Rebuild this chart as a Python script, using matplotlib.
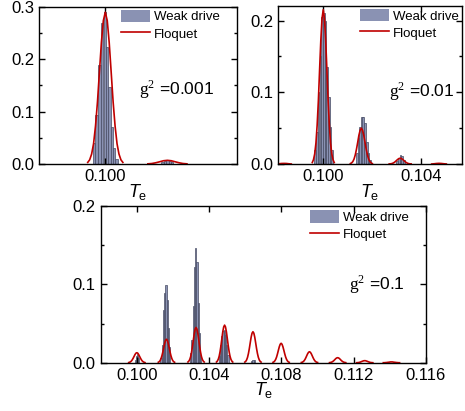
import numpy as np
import matplotlib
matplotlib.use('Agg')
import matplotlib.pyplot as plt
from matplotlib.patches import Patch
from matplotlib.lines import Line2D
from matplotlib.ticker import MultipleLocator

plt.rcParams['font.family'] = ['Liberation Sans', 'DejaVu Sans']
plt.rcParams['mathtext.fontset'] = 'custom'
plt.rcParams['mathtext.rm'] = 'Liberation Serif'
plt.rcParams['mathtext.it'] = 'Liberation Sans:italic'
plt.rcParams['mathtext.sf'] = 'Liberation Sans'

# ---- weak drive histograms (bin centre, height) ----
a_bin_x = [0.09972, 0.09979, 0.09986, 0.09993, 0.10000, 0.10006, 0.10012, 0.10018, 0.10024, 0.10030,
           0.10148, 0.10154, 0.10160, 0.10166, 0.10172]
a_bin_y = [0.040, 0.094, 0.190, 0.270, 0.290, 0.224, 0.148, 0.071, 0.030, 0.010,
           0.003, 0.006, 0.007, 0.006, 0.003]

b_bin_x = [0.09968, 0.09975, 0.09982, 0.09989, 0.09996, 0.10003, 0.10010, 0.10017, 0.10024, 0.10031, 0.10038,
           0.10138, 0.10145, 0.10152, 0.10159, 0.10165, 0.10172, 0.10179, 0.10186, 0.10193,
           0.10303, 0.10310, 0.10317, 0.10324, 0.10331]
b_bin_y = [0.020, 0.045, 0.100, 0.150, 0.205, 0.210, 0.200, 0.135, 0.094, 0.052, 0.020,
           0.015, 0.036, 0.052, 0.066, 0.066, 0.057, 0.031, 0.015, 0.005,
           0.004, 0.009, 0.013, 0.011, 0.006]

c_bin_x = [0.09992, 0.09998, 0.10004, 0.10010,
           0.10134, 0.10141, 0.10148, 0.10155, 0.10162, 0.10169, 0.10176, 0.10183,
           0.10298, 0.10305, 0.10312, 0.10319, 0.10326, 0.10333, 0.10340, 0.10347, 0.10354,
           0.10456, 0.10463, 0.10470, 0.10477, 0.10484, 0.10491, 0.10498, 0.10505,
           0.10636, 0.10643, 0.10650]
c_bin_y = [0.004, 0.009, 0.011, 0.006,
           0.006, 0.023, 0.067, 0.089, 0.099, 0.080, 0.044, 0.020,
           0.012, 0.029, 0.072, 0.122, 0.147, 0.129, 0.076, 0.038, 0.010,
           0.008, 0.022, 0.034, 0.040, 0.042, 0.036, 0.022, 0.010,
           0.002, 0.004, 0.003]

# ---- Floquet curves: peak centre, sample step, sampled heights ----
a_peaks = [
    (0.10001, 0.00005, [0.003, 0.008, 0.019, 0.039, 0.073, 0.119, 0.176, 0.232, 0.274, 0.290,
                        0.274, 0.232, 0.176, 0.119, 0.073, 0.039, 0.019, 0.008, 0.003]),
    (0.10160, 0.00010, [0.0003, 0.0009, 0.0023, 0.0042, 0.0062, 0.0070, 0.0062, 0.0042, 0.0023, 0.0009, 0.0003]),
]

b_peaks = [
    (0.09840, 0.00010, [0.0, 0.0003, 0.0007, 0.0008, 0.0007, 0.0003, 0.0]),
    (0.10001, 0.00005, [0.002, 0.006, 0.014, 0.029, 0.054, 0.088, 0.131, 0.172, 0.203, 0.215,
                        0.203, 0.172, 0.131, 0.088, 0.054, 0.029, 0.014, 0.006, 0.002]),
    (0.10157, 0.00005, [0.0006, 0.0015, 0.0033, 0.0068, 0.0125, 0.0205, 0.030, 0.040, 0.047, 0.050,
                        0.047, 0.040, 0.030, 0.0205, 0.0125, 0.0068, 0.0033, 0.0015, 0.0006]),
    (0.10316, 0.00005, [0.0001, 0.0002, 0.0005, 0.0011, 0.0020, 0.0033, 0.0049, 0.0064, 0.0076, 0.0080,
                        0.0076, 0.0064, 0.0049, 0.0033, 0.0020, 0.0011, 0.0005, 0.0002, 0.0001]),
    (0.10475, 0.00010, [0.0, 0.0003, 0.0007, 0.0009, 0.0007, 0.0003, 0.0]),
]

c_peaks = [
    (0.10000, 0.00005, [0.0002, 0.0006, 0.0012, 0.0022, 0.0038, 0.0059, 0.0082, 0.0105, 0.0122, 0.0128,
                        0.0122, 0.0105, 0.0082, 0.0059, 0.0038, 0.0022, 0.0012, 0.0006, 0.0002]),
    (0.10164, 0.00005, [0.0006, 0.0013, 0.0027, 0.0052, 0.0089, 0.0137, 0.0193, 0.0247, 0.0286, 0.0300,
                        0.0286, 0.0247, 0.0193, 0.0137, 0.0089, 0.0052, 0.0027, 0.0013, 0.0006]),
    (0.10328, 0.00005, [0.0009, 0.0020, 0.0041, 0.0077, 0.0133, 0.0206, 0.0290, 0.0370, 0.0428, 0.0450,
                        0.0428, 0.0370, 0.0290, 0.0206, 0.0133, 0.0077, 0.0041, 0.0020, 0.0009]),
    (0.10486, 0.00005, [0.0009, 0.0021, 0.0044, 0.0083, 0.0142, 0.0220, 0.0309, 0.0395, 0.0457, 0.0480,
                        0.0457, 0.0395, 0.0309, 0.0220, 0.0142, 0.0083, 0.0044, 0.0021, 0.0009]),
    (0.10643, 0.00005, [0.0008, 0.0017, 0.0036, 0.0068, 0.0117, 0.0181, 0.0255, 0.0326, 0.0377, 0.0396,
                        0.0377, 0.0326, 0.0255, 0.0181, 0.0117, 0.0068, 0.0036, 0.0017, 0.0008]),
    (0.10799, 0.00005, [0.0005, 0.0011, 0.0023, 0.0043, 0.0073, 0.0114, 0.0160, 0.0204, 0.0236, 0.0248,
                        0.0236, 0.0204, 0.0160, 0.0114, 0.0073, 0.0043, 0.0023, 0.0011, 0.0005]),
    (0.10956, 0.00005, [0.0003, 0.0006, 0.0013, 0.0024, 0.0041, 0.0064, 0.0090, 0.0115, 0.0133, 0.0140,
                        0.0133, 0.0115, 0.0090, 0.0064, 0.0041, 0.0024, 0.0013, 0.0006, 0.0003]),
    (0.11112, 0.00005, [0.0001, 0.0003, 0.0006, 0.0011, 0.0019, 0.0029, 0.0041, 0.0053, 0.0061, 0.0064,
                        0.0061, 0.0053, 0.0041, 0.0029, 0.0019, 0.0011, 0.0006, 0.0003, 0.0001]),
    (0.11262, 0.00005, [0.0, 0.0001, 0.0002, 0.0004, 0.0008, 0.0012, 0.0017, 0.0021, 0.0025, 0.0026,
                        0.0025, 0.0021, 0.0017, 0.0012, 0.0008, 0.0004, 0.0002, 0.0001, 0.0]),
    (0.11410, 0.00005, [0.0, 0.0, 0.0001, 0.0002, 0.0003, 0.0005, 0.0006, 0.0008, 0.0010, 0.0010,
                        0.0010, 0.0008, 0.0006, 0.0005, 0.0003, 0.0002, 0.0001, 0.0, 0.0]),
]

labels = [r'$\mathrm{g}^{2}$ =0.001', r'$\mathrm{g}^{2}$ =0.01', r'$\mathrm{g}^{2}$ =0.1']

bar_color = '#8a92b3'
bar_edge = '#464b63'
red = '#c00000'


def draw_panel(ax, bin_x, bin_y, width, peaks, xlim, ylim, label, text_pos, leg_anchor):
    ax.bar(bin_x, bin_y, width=width, color=bar_color, edgecolor=bar_edge, linewidth=0.5, zorder=1)
    for c, step, vals in peaks:
        n = len(vals)
        xs = [c + (i - n // 2) * step for i in range(n)]
        ax.plot(xs, vals, color=red, linewidth=1.2, zorder=2)
    ax.set_xlim(*xlim)
    ax.set_ylim(*ylim)
    ax.xaxis.set_major_locator(MultipleLocator(0.004))
    ax.yaxis.set_major_locator(MultipleLocator(0.1))
    ax.yaxis.set_minor_locator(MultipleLocator(0.05))
    ax.xaxis.set_major_formatter(plt.FuncFormatter(lambda v, p: f'{v:.3f}'))
    ax.yaxis.set_major_formatter(plt.FuncFormatter(lambda v, p: f'{v:.1f}'))
    ax.tick_params(which='both', direction='in', top=True, right=True, labelsize=12)
    ax.tick_params(which='major', length=4, width=1)
    ax.tick_params(which='minor', length=2.5, width=1)
    for s in ax.spines.values():
        s.set_linewidth(1.0)
    ax.set_xlabel(r'$\mathit{T}_{\mathsf{e}}$', fontsize=13, labelpad=-1.5)
    ax.text(text_pos[0], text_pos[1], label, transform=ax.transAxes, fontsize=12.5, va='center', ha='left')
    handles = [Patch(facecolor=bar_color, edgecolor='none'), Line2D([], [], color=red, linewidth=1.2)]
    ax.legend(handles, ['Weak drive', 'Floquet'], loc='upper left', bbox_to_anchor=leg_anchor,
              frameon=False, fontsize=9.5, handlelength=2.2, handleheight=1.1, handletextpad=0.3,
              labelspacing=0.25, borderpad=0.2, borderaxespad=0.0)


fig = plt.figure(figsize=(4.65, 4.11), dpi=100)
ax_a = fig.add_axes([0.0845, 0.601, 0.425, 0.382])
ax_b = fig.add_axes([0.598, 0.601, 0.396, 0.384])
ax_c = fig.add_axes([0.2166, 0.1175, 0.699, 0.381])

draw_panel(ax_a, a_bin_x, a_bin_y, 0.000062, a_peaks, (0.09832, 0.10338), (0, 0.3),
           labels[0], (0.505, 0.47), (0.40, 1.0))
draw_panel(ax_b, b_bin_x, b_bin_y, 0.000066, b_peaks, (0.09816, 0.10570), (0, 0.22),
           labels[1], (0.60, 0.456), (0.43, 1.0))
draw_panel(ax_c, c_bin_x, c_bin_y, 0.000066, c_peaks, (0.0980, 0.1160), (0, 0.2),
           labels[2], (0.765, 0.496), (0.635, 0.99))

fig.savefig('out.png', dpi=100)
